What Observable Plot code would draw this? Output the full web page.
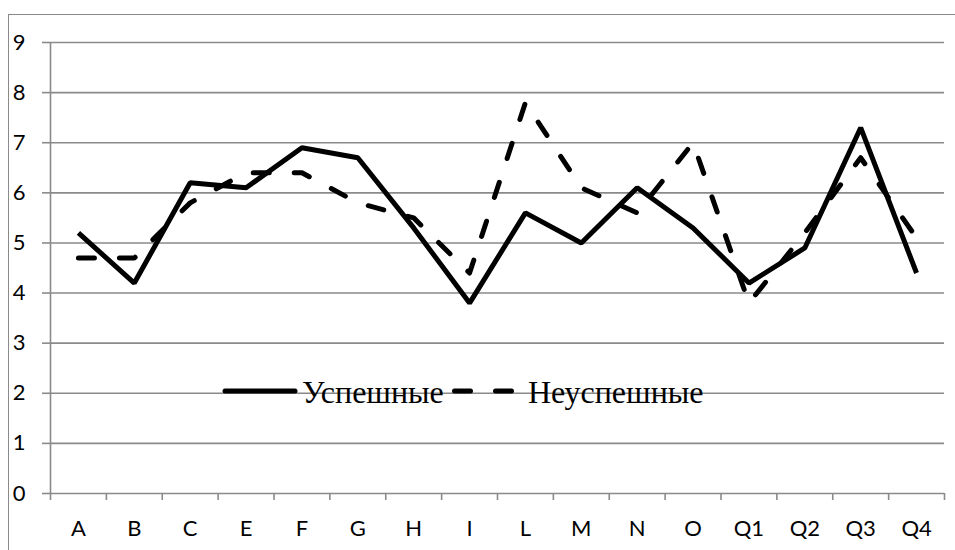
<!DOCTYPE html>
<html>
<head>
<meta charset="utf-8">
<script src="https://cdn.jsdelivr.net/npm/d3@7"></script>
<script src="https://cdn.jsdelivr.net/npm/@observablehq/plot@0.6"></script>
<style>
  html, body { margin: 0; padding: 0; background: #fff; overflow: hidden; }
  #wrap { position: relative; width: 955px; height: 550px; }
  #border { position: absolute; left: 8px; top: 14px; width: 1000px; height: 600px;
            border-left: 1.5px solid #8a8a8a; border-top: 1.5px solid #8a8a8a; }
  #chart { position: absolute; left: 0; top: 0; }
  #legend { position: absolute; left: 215px; top: 370px; }
</style>
</head>
<body>
<div id="wrap">
  <div id="border"></div>
  <div id="chart"></div>
  <svg id="legend" width="500" height="45"></svg>
</div>
<script>
const categories = ["A","B","C","E","F","G","H","I","L","M","N","O","Q1","Q2","Q3","Q4"];
const successful = [5.2, 4.2, 6.2, 6.1, 6.9, 6.7, 5.3, 3.8, 5.6, 5.0, 6.1, 5.3, 4.2, 4.9, 7.3, 4.4];
const unsuccessful = [4.7, 4.7, 5.8, 6.4, 6.4, 5.8, 5.5, 4.4, 7.8, 6.1, 5.6, 7.0, 3.8, 5.2, 6.7, 5.1];
const yTicks = [0, 1, 2, 3, 4, 5, 6, 7, 8, 9];
const seriesNames = ["Успешные", "Неуспешные"];

const gridColor = "#8a8a8a";
const centers = categories.map((c, i) => i + 0.5);
const bounds = d3.range(categories.length + 1);

const chart = Plot.plot({
  width: 955,
  height: 550,
  marginLeft: 50,
  marginRight: 11,
  marginTop: 42,
  marginBottom: 57,
  style: { fontFamily: "Lato", fontSize: "22px", color: "#000", background: "transparent" },
  x: { type: "linear", domain: [0, categories.length] },
  y: { domain: [0, 9] },
  marks: [
    Plot.ruleY(yTicks, { stroke: gridColor, strokeWidth: 1.6 }),
    Plot.ruleX([0], { stroke: gridColor, strokeWidth: 1.6 }),
    Plot.axisY({ ticks: yTicks, tickSize: 8, tickPadding: 17, stroke: gridColor, strokeWidth: 1.6, strokeOpacity: 1, label: null, tickFormat: d => String(d), fill: "#000" }),
    Plot.axisX({ ticks: bounds, tickSize: 7, tickFormat: () => "", stroke: gridColor, strokeWidth: 1.6, strokeOpacity: 1, label: null }),
    Plot.axisX({ ticks: centers, tickSize: 0, tickPadding: 27, tickFormat: d => categories[Math.floor(d)], label: null, fill: "#000" }),
    Plot.line(successful, { x: (d, i) => i + 0.5, y: d => d, stroke: "#000", strokeWidth: 5, strokeLinejoin: "miter", strokeLinecap: "butt" }),
    Plot.line(unsuccessful, { x: (d, i) => i + 0.5, y: d => d, stroke: "#000", strokeWidth: 5, strokeDasharray: "16,25", strokeLinecap: "round", strokeLinejoin: "round" })
  ]
});
document.getElementById("chart").appendChild(chart);

// legend (inside plot area, as in the reference)
const lg = d3.select("#legend");
const font = "'Liberation Serif', 'Times New Roman', serif";
lg.append("line").attr("x1", 10).attr("x2", 80).attr("y1", 21).attr("y2", 21)
  .attr("stroke", "#000").attr("stroke-width", 5).attr("stroke-linecap", "round");
lg.append("text").attr("x", 87).attr("y", 33).attr("font-family", font).attr("font-size", 32).text(seriesNames[0]);
lg.append("line").attr("x1", 239.5).attr("x2", 296.5).attr("y1", 21).attr("y2", 21)
  .attr("stroke", "#000").attr("stroke-width", 5).attr("stroke-linecap", "round").attr("stroke-dasharray", "16,25");
lg.append("text").attr("x", 313).attr("y", 33).attr("font-family", font).attr("font-size", 32).text(seriesNames[1]);
</script>
</body>
</html>
